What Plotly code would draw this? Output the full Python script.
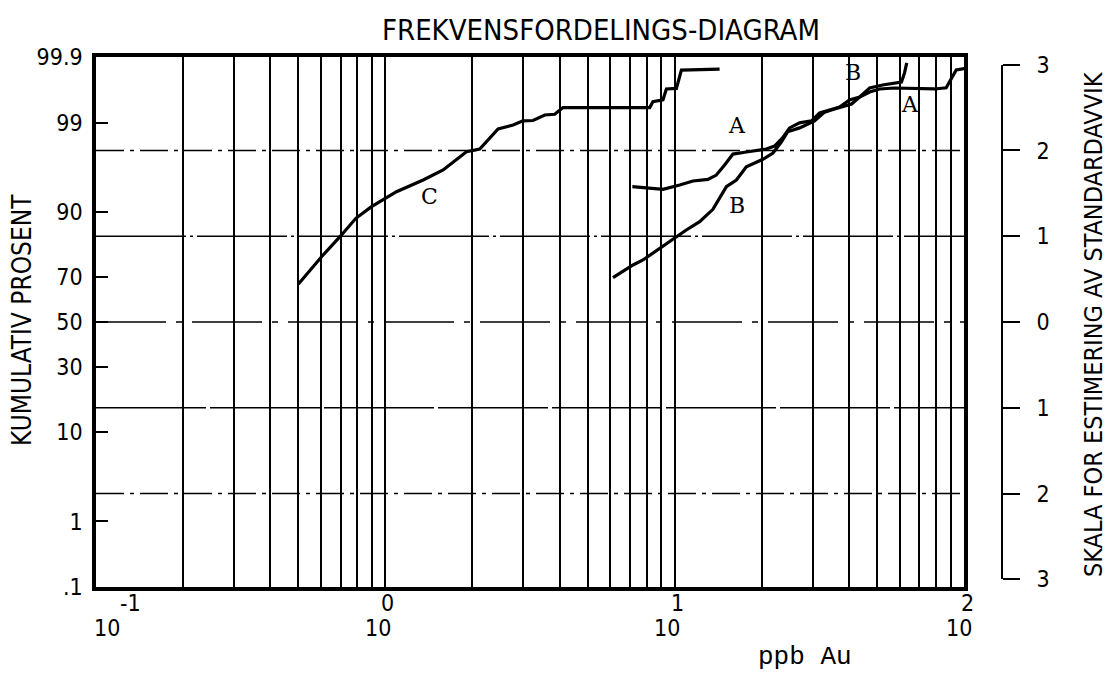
import plotly.graph_objects as go
from statistics import NormalDist

# ---------------- data ----------------
# Curve C
c_ppb = [0.50, 0.602, 0.697, 0.791, 0.896, 1.01, 1.093, 1.351, 1.584, 1.908, 2.12,
         2.453, 2.764, 2.99, 3.24, 3.556, 3.85, 4.11, 8.20, 8.41, 9.11, 9.36, 10.14,
         10.55, 14.30]
c_pct = [67.0, 77.68, 84.01, 88.67, 91.07, 92.65, 93.57, 95.11, 96.19, 97.65, 97.82,
         98.78, 98.92, 99.05, 99.06, 99.21, 99.23, 99.38, 99.38, 99.49, 99.52, 99.671,
         99.678, 99.835, 99.841]
# Curve A
a_ppb = [7.14, 8.20, 9.11, 10.41, 11.57, 13.03, 13.93, 14.88, 15.90, 17.69, 20.74,
         22.15, 23.6, 24.96, 27.03, 29.73, 31.7, 34.3, 37.15, 40.2, 43.6, 47.2, 51.1,
         57.5, 79.1, 86.8, 90.3, 94.0, 101.8]
a_pct = [94.27, 94.13, 93.91, 94.50, 94.99, 95.19, 95.67, 96.64, 97.49, 97.63, 97.82,
         97.99, 98.41, 98.82, 98.99, 99.05, 99.26, 99.33, 99.39, 99.52, 99.565, 99.634,
         99.671, 99.682, 99.671, 99.685, 99.776, 99.835, 99.846]
# Curve B
b_ppb = [6.12, 7.18, 7.77, 9.36, 10.97, 12.2, 13.56, 15.09, 16.34, 17.69, 20.18, 21.86,
         23.37, 24.56, 27.03, 30.45, 32.97, 35.7, 38.66, 40.87, 43.6, 47.2, 52.3, 60.8,
         62.3, 63.4]
b_pct = [69.73, 74.69, 76.52, 82.06, 85.83, 87.90, 90.56, 94.27, 95.11, 96.49, 97.11,
         97.56, 98.21, 98.67, 98.82, 99.05, 99.28, 99.35, 99.41, 99.45, 99.565, 99.682,
         99.714, 99.743, 99.816, 99.874]

# axis labels
y_tick_pct = [99.9, 99, 90, 70, 50, 30, 10, 1, 0.1]
y_tick_text = ["99.9", "99", "90", "70", "50", "30", "10", "1", ".1"]
sd_vals = [3, 2, 1, 0, -1, -2, -3]
sd_text = ["3", "2", "1", "0", "1", "2", "3"]
decades = [-1, 0, 1, 2]
x_grid = [m * 10.0 ** e for e in (-1, 0, 1) for m in range(2, 10)] + [1, 10]

# ---------------- helpers ----------------
nd = NormalDist()


def z(p):
    return nd.inv_cdf(p / 100.0)


zlo, zhi = z(0.1), z(99.9)

SANS = "Liberation Sans Narrow, DejaVu Sans Condensed, Roboto Condensed, Arial Narrow, sans-serif"
MONO = "Liberation Mono, Courier New, DejaVu Sans Mono, monospace"
SERIF = "DejaVu Serif, Liberation Serif, serif"

# the page body adds an 8px offset; lay out in screen pixels and compensate
OFF = 8
W, H = 1113 - OFF, 694 - OFF
PL, PT, PR, PB = 96, 57, 964, 587      # plot box in screen px
AX2 = 1002                              # std-dev axis line, screen px
L, T = PL - OFF, PT - OFF
R = W - (AX2 - OFF)
B = H - (PB - OFF)
plot_w = W - L - R
plot_h = H - T - B
x_dom_end = (PR - PL) / plot_w


def px(xs):
    return (xs - PL) / plot_w


def py(ys):
    return (PB - ys) / plot_h


fig = go.Figure()
line_style = dict(color="black", width=3.2)
for xs, ps, nm in [(c_ppb, c_pct, "C"), (a_ppb, a_pct, "A"), (b_ppb, b_pct, "B")]:
    fig.add_trace(go.Scatter(x=xs, y=[z(p) for p in ps], mode="lines", line=line_style,
                             name=nm, showlegend=False, hoverinfo="x+y"))

# empty trace so the standard-deviation axis is drawn
fig.add_trace(go.Scatter(x=[], y=[], yaxis="y2", showlegend=False))

# horizontal reference lines at whole standard deviations
hl = [(2, "28px,6px,4px,6px"), (1, "90px,4px,3px,4px"), (0, "70px,10px,6px,10px"),
      (-1, "110px,4px"), (-2, "28px,6px,4px,6px")]
shapes = []
for zz, dash in hl:
    shapes.append(dict(type="line", xref="x domain", x0=0, x1=1, yref="y", y0=zz, y1=zz,
                       line=dict(color="black", width=1.7, dash=dash), layer="below"))

ann = []
# decade tick labels (10 with exponent above)
ten_shift = {-1: 11, 0: -7, 1: -8, 2: -5}
exp_shift = {-1: 34, 0: 2, 1: 3, 2: 3}
for k in decades:
    ann.append(dict(x=k, xref="x", y=0, yref="paper", text="10", showarrow=False,
                    xanchor="center", yanchor="middle", xshift=ten_shift[k], yshift=-41,
                    font=dict(family=SANS, size=23, color="black")))
    ann.append(dict(x=k, xref="x", y=0, yref="paper", text=str(k), showarrow=False,
                    xanchor="center", yanchor="middle", xshift=exp_shift[k], yshift=-16,
                    font=dict(family=SANS, size=23, color="black")))

# curve letters
for lx, lz, t in [(0.1537, 1.458, "C"), (1.2142, 2.297, "A"), (1.2142, 1.353, "B"),
                  (1.6149, 2.904, "B"), (1.8117, 2.531, "A")]:
    ann.append(dict(x=lx, xref="x", y=lz, yref="y", text=t, showarrow=False,
                    xanchor="center", yanchor="middle",
                    font=dict(family=SERIF, size=22, color="black")))

# titles
ann.append(dict(x=px(601), xref="paper", y=py(30), yref="paper",
                xanchor="center", yanchor="middle",
                text="FREKVENSFORDELINGS-DIAGRAM", showarrow=False,
                font=dict(family=SANS, size=29, color="black")))
ann.append(dict(x=px(22), xref="paper", y=py(320), yref="paper",
                xanchor="center", yanchor="middle",
                text="KUMULATIV PROSENT", textangle=-90, showarrow=False,
                font=dict(family=SANS, size=26, color="black")))
ann.append(dict(x=px(1093), xref="paper", y=py(324), yref="paper",
                xanchor="center", yanchor="middle",
                text="SKALA FOR ESTIMERING AV STANDARDAVVIK", textangle=-90, showarrow=False,
                font=dict(family=SANS, size=25, color="black")))
ann.append(dict(x=px(805), xref="paper", y=py(657), yref="paper",
                xanchor="center", yanchor="middle",
                text="ppb Au", showarrow=False,
                font=dict(family=MONO, size=26, color="black")))

fig.update_layout(
    width=W, height=H,
    margin=dict(l=L, r=R, t=T, b=B, pad=0, autoexpand=False),
    paper_bgcolor="white", plot_bgcolor="rgba(0,0,0,0)",
    font=dict(family=SANS, color="black"),
    showlegend=False,
    xaxis=dict(type="log", range=[-1, 2], domain=[0, x_dom_end],
               tickvals=x_grid, showticklabels=False, ticks="",
               showgrid=True, gridcolor="black", gridwidth=1.8,
               showline=True, linecolor="black", linewidth=3.5, mirror=True,
               zeroline=False),
    yaxis=dict(range=[zlo, zhi], tickvals=[z(p) for p in y_tick_pct], ticktext=y_tick_text,
               ticks="inside", ticklen=12, tickwidth=2, tickcolor="black",
               showgrid=False, zeroline=False,
               showline=True, linecolor="black", linewidth=3.5, mirror=True,
               tickfont=dict(family=SANS, size=23, color="black"), ticklabelstandoff=5),
    yaxis2=dict(anchor="free", position=1, side="right",
                domain=[(-3 - zlo) / (zhi - zlo), (3 - zlo) / (zhi - zlo)],
                range=[-3, 3], tickvals=sd_vals, ticktext=sd_text,
                ticks="outside", ticklen=17, tickwidth=2, tickcolor="black",
                showline=True, linecolor="black", linewidth=2,
                showgrid=False, zeroline=False,
                tickfont=dict(family=SANS, size=23, color="black"), ticklabelstandoff=12),
    shapes=shapes,
    annotations=ann,
)

fig.write_html("out.html")
